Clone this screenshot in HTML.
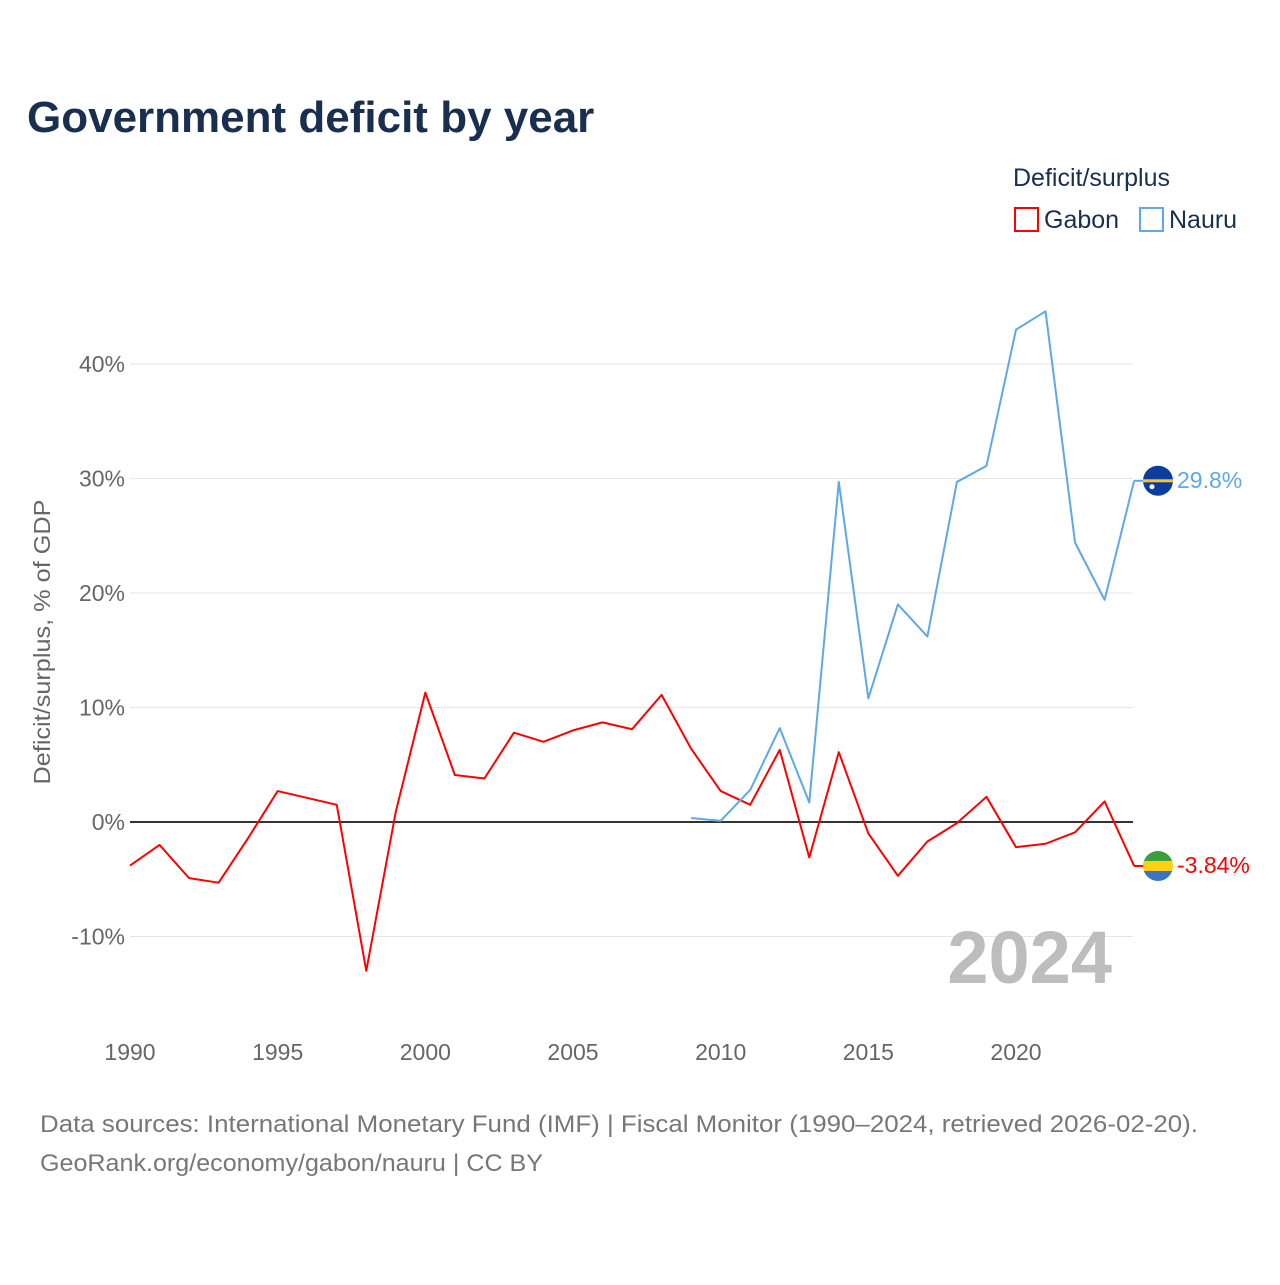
<!DOCTYPE html>
<html><head><meta charset="utf-8"><style>
body{margin:0;background:#fff;font-family:"Liberation Sans",sans-serif}
svg text{font-family:"Liberation Sans",sans-serif}
</style></head><body>
<svg id="c" width="1280" height="1280" xmlns="http://www.w3.org/2000/svg">
<rect width="1280" height="1280" fill="#fff"/>
<text x="27" y="132" font-size="44" font-weight="bold" fill="#1a2e4f">Government deficit by year</text>
<text x="1013" y="186" font-size="25" fill="#1a2e4f">Deficit/surplus</text>
<g><rect x="1015" y="208" width="23" height="23" fill="none" stroke="#ff0000" stroke-width="2"/><text x="1044" y="228" font-size="25" fill="#1a2e4f">Gabon</text></g>
<g><rect x="1140" y="208" width="23" height="23" fill="none" stroke="#5fa8e8" stroke-width="2"/><text x="1169" y="228" font-size="25" fill="#1a2e4f">Nauru</text></g>
<g id="grid"></g><g id="series"></g>
<text transform="translate(50,642) rotate(-90)" text-anchor="middle" font-size="23" textLength="285" lengthAdjust="spacingAndGlyphs" fill="#666">Deficit/surplus, % of GDP</text>
<text x="1112" y="983" text-anchor="end" font-size="74" font-weight="bold" fill="#bdbdbd">2024</text>
<text x="40" y="1132" font-size="24" fill="#777" textLength="1158" lengthAdjust="spacingAndGlyphs">Data sources: International Monetary Fund (IMF) | Fiscal Monitor (1990–2024, retrieved 2026-02-20).</text>
<text x="40" y="1171" font-size="24" fill="#777" textLength="503" lengthAdjust="spacingAndGlyphs">GeoRank.org/economy/gabon/nauru | CC BY</text>
</svg>
<script>
const years=[1990,1991,1992,1993,1994,1995,1996,1997,1998,1999,2000,2001,2002,2003,2004,2005,2006,2007,2008,2009,2010,2011,2012,2013,2014,2015,2016,2017,2018,2019,2020,2021,2022,2023,2024];
const gabon=[-3.8,-2.0,-4.9,-5.3,-1.4,2.7,2.1,1.5,-13.0,0.9,11.3,4.1,3.8,7.8,7.0,8.0,8.7,8.1,11.1,6.4,2.7,1.5,6.3,-3.1,6.1,-1.0,-4.7,-1.7,-0.1,2.2,-2.2,-1.9,-0.9,1.8,-3.84];
const nauruYears=[2009,2010,2011,2012,2013,2014,2015,2016,2017,2018,2019,2020,2021,2022,2023,2024];
const nauru=[0.35,0.1,2.8,8.2,1.7,29.7,10.8,19.0,16.2,29.7,31.1,43.0,44.6,24.4,19.4,29.8];
const yTicks=[-10,0,10,20,30,40];
const xTicks=[1990,1995,2000,2005,2010,2015,2020];
const NS="http://www.w3.org/2000/svg";
const x=v=>130+(v-1990)*(1016-130)/30;
const y=v=>822-v*11.45;
function mk(t,a,p){const e=document.createElementNS(NS,t);for(const k in a)e.setAttribute(k,a[k]);p.appendChild(e);return e;}
const g=document.getElementById('grid'),s=document.getElementById('series');
yTicks.forEach(t=>{const l=mk('line',{x1:130,x2:1133,y1:y(t),y2:y(t),stroke:t===0?'#333':'#e6e6e6','stroke-width':t===0?2:1},g);


const tx=mk('text',{x:125,y:y(t)+8,'text-anchor':'end','font-size':23,fill:'#666'},g);tx.textContent=t+'%';

});
xTicks.forEach(t=>{const tx=mk('text',{x:x(t),y:1060,'text-anchor':'middle','font-size':23,fill:'#666'},g);tx.textContent=t;

});
function line(xs,vs,c,name){const p=mk('polyline',{points:xs.map((yr,i)=>x(yr)+','+y(vs[i])).join(' '),fill:'none',stroke:c,'stroke-width':2,'stroke-linejoin':'round'},s);

}
line(years,gabon,'#ff0000','gabon-line');
line(nauruYears,nauru,'#5fa8e8','nauru-line');
function endLabel(v,c,txt,name,flag){const cy=y(v);mk('line',{x1:1134,x2:1150,y1:cy,y2:cy,stroke:c,'stroke-width':2},s);
const fg=mk('g',{},s);
if(flag==='nauru'){mk('circle',{cx:1158,cy:cy,r:15,fill:'#0a3d9e'},fg);mk('rect',{x:1143,y:cy-1.5,width:30,height:3,fill:'#ffc61e'},fg);mk('circle',{cx:1152,cy:cy+6,r:2.5,fill:'#fff'},fg);}
else{mk('clipPath',{id:'cg'},fg).appendChild(document.createElementNS(NS,'circle'));const cc=fg.querySelector('clipPath circle');cc.setAttribute('cx',1158);cc.setAttribute('cy',cy);cc.setAttribute('r',15);
[['#3a9e3a',-15],['#fcd116',-5],['#3a75c4',5]].forEach(([f,o])=>mk('rect',{x:1143,y:cy+o,width:30,height:10,fill:f,'clip-path':'url(#cg)'},fg));}
const t=mk('text',{x:1177,y:cy+7,'font-size':23,fill:c},s);t.textContent=txt;

}
endLabel(nauru[nauru.length-1],'#5fa8e8',nauru[nauru.length-1]+'%','nauru','nauru');
endLabel(gabon[gabon.length-1],'#ff0000',gabon[gabon.length-1]+'%','gabon','gabon');
</script>
</body></html>
